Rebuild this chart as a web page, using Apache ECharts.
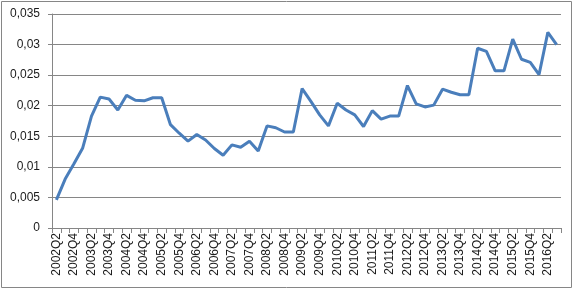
<!DOCTYPE html>
<html>
<head>
<meta charset="utf-8">
<script src="https://cdn.jsdelivr.net/npm/echarts@6/dist/echarts.min.js"></script>
<style>html,body{margin:0;padding:0;background:#fff}#c{width:576px;height:289px}</style>
</head>
<body>
<div id="c"></div>
<script>
// Quarterly categories 2002Q2 .. 2016Q3
var years = [2002,2003,2004,2005,2006,2007,2008,2009,2010,2011,2012,2013,2014,2015,2016];
var categories = [];
years.forEach(function (y) {
  [1,2,3,4].forEach(function (q) {
    var lab = y + 'Q' + q;
    if (lab >= '2002Q2' && lab <= '2016Q3') categories.push(lab);
  });
});
var values = [
  0.0046, 0.0080, 0.0105, 0.0131, 0.0183, 0.0214, 0.0211, 0.0193, 0.0217, 0.0209,
  0.0208, 0.0213, 0.0213, 0.0169, 0.0155, 0.0142, 0.0153, 0.0144, 0.0130, 0.0119,
  0.0136, 0.0132, 0.0142, 0.0126, 0.0167, 0.0164, 0.0157, 0.0157, 0.0228, 0.0207,
  0.0185, 0.0167, 0.0204, 0.0193, 0.0185, 0.0166, 0.0192, 0.0178, 0.0183, 0.0183,
  0.0233, 0.0203, 0.0198, 0.0201, 0.0227, 0.0222, 0.0218, 0.0218, 0.0294, 0.0289,
  0.0257, 0.0257, 0.0309, 0.0276, 0.0271, 0.0251, 0.0320, 0.0300
];
var yTicks = [0, 0.005, 0.01, 0.015, 0.02, 0.025, 0.03, 0.035];

var chart = echarts.init(document.getElementById('c'), null, {renderer: 'canvas'});
chart.setOption({
  animation: false,
  backgroundColor: '#fff',
  graphic: [{
    type: 'rect', shape: {x: 1.5, y: 1.5, width: 570, height: 286},
    style: {fill: 'none', stroke: '#868686', lineWidth: 1}, silent: true
  }],
  grid: {left: 52, right: 15, top: 14, bottom: 61},
  xAxis: {
    type: 'category',
    data: categories,
    boundaryGap: true,
    axisLine: {show: true, lineStyle: {color: '#868686', width: 1}},
    axisTick: {show: true, interval: 0, length: 5, lineStyle: {color: '#868686'}},
    axisLabel: {
      interval: 1, rotate: 90, margin: 5,
      fontFamily: 'Liberation Sans, Arial, sans-serif', fontSize: 12, color: '#1a1a1a'
    },
    splitLine: {show: false}
  },
  yAxis: {
    type: 'value',
    min: 0, max: 0.035, interval: 0.005,
    axisLine: {show: true, lineStyle: {color: '#868686', width: 1}},
    axisTick: {show: true, length: 4, lineStyle: {color: '#868686'}},
    axisLabel: {
      margin: 12,
      fontFamily: 'Liberation Sans, Arial, sans-serif', fontSize: 12, color: '#1a1a1a',
      formatter: function (v) {
        var s = yTicks.indexOf(v) >= 0 ? String(v) : String(v);
        return s.replace('.', ',');
      }
    },
    splitLine: {show: true, lineStyle: {color: '#868686', width: 1}}
  },
  series: [{
    type: 'line',
    data: values,
    showSymbol: false,
    symbol: 'none',
    lineStyle: {color: '#4a7ebb', width: 3},
    itemStyle: {color: '#4a7ebb'}
  }]
});
</script>
</body>
</html>
